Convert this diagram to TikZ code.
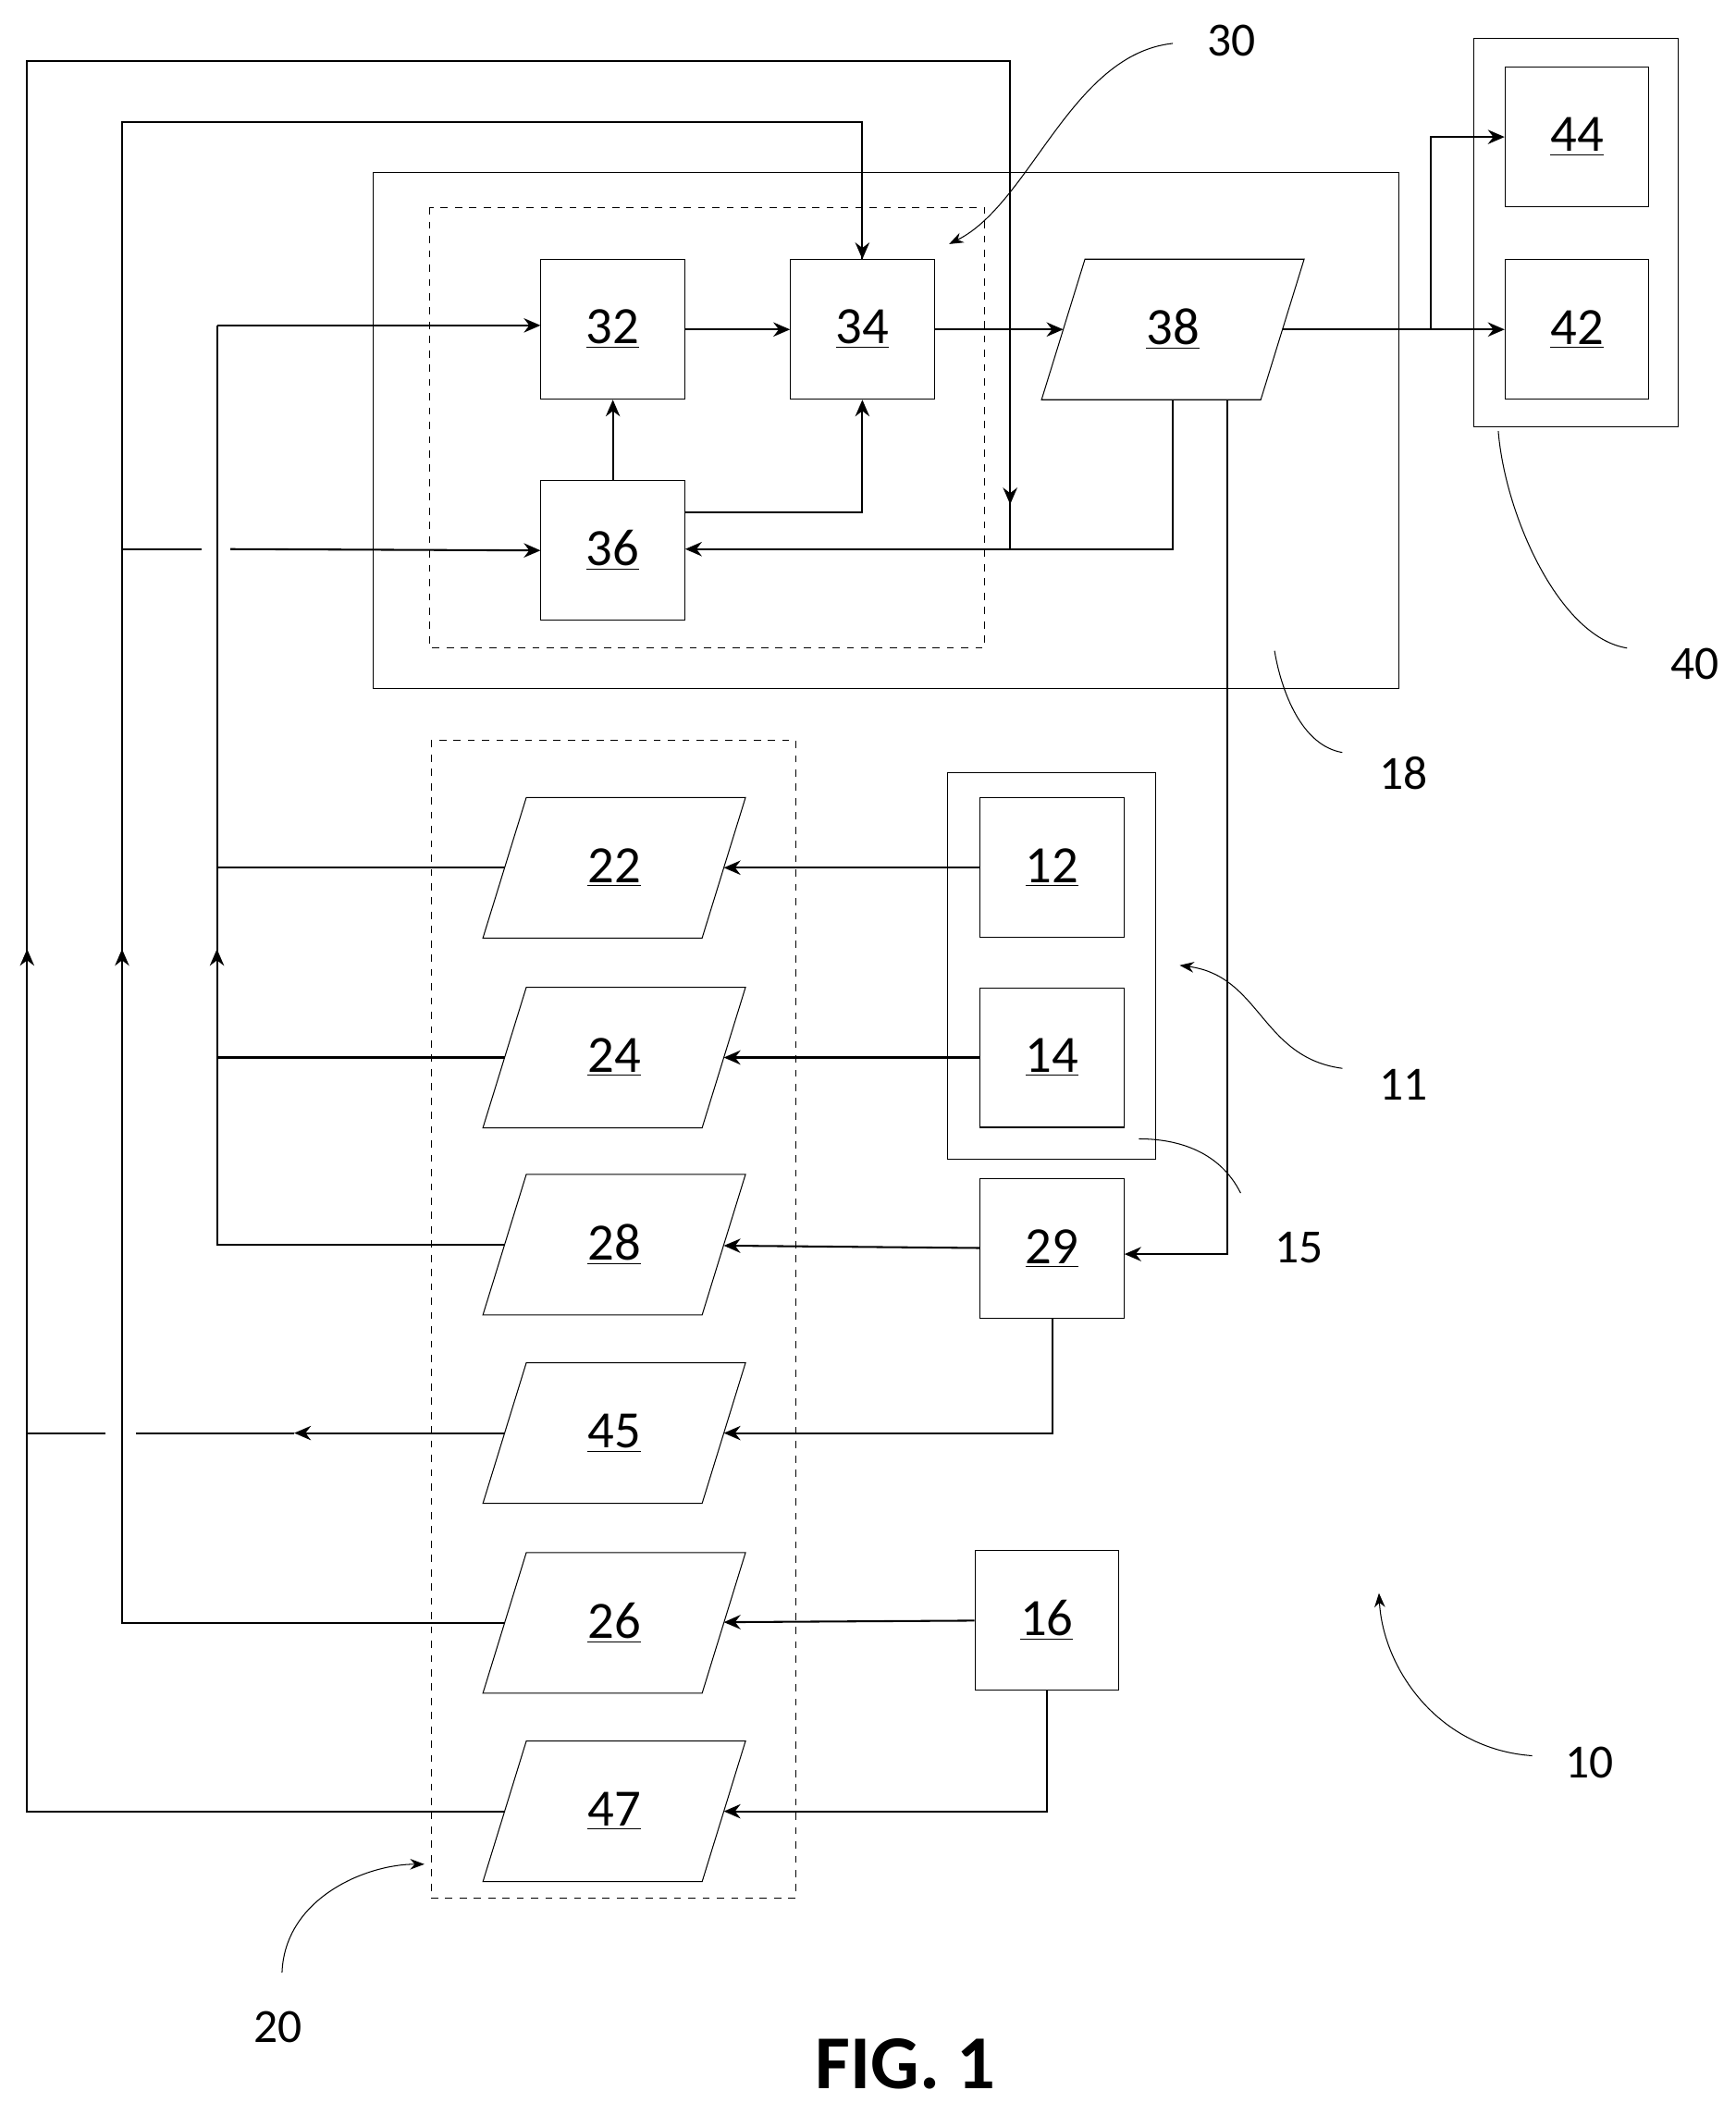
\documentclass[tikz,border=0pt]{standalone}
\usepackage{fontspec}
\setmainfont{Carlito}
\usetikzlibrary{arrows.meta}

\tikzset{
    blk/.style={draw, thin, minimum width=2.12cm, minimum height=2.06cm, inner sep=0pt, font=\fontsize{22}{24}\selectfont},
    para/.style={minimum width=3.22cm, minimum height=2.06cm, inner sep=0pt, font=\fontsize{22}{24}\selectfont,
        append after command={\pgfextra{\draw[thin] ([xshift=-0.32cm]\tikzlastnode.south west) -- ([xshift=0.32cm]\tikzlastnode.north west)
            -- ([xshift=0.32cm]\tikzlastnode.north east) -- ([xshift=-0.32cm]\tikzlastnode.south east) -- cycle;}}},
    wire/.style={thick, -{Stealth[length=7pt, width=6pt]}},
    plain/.style={thick},
    ref/.style={font=\fontsize{20}{22}\selectfont},
    lead/.style={thin},
}

\begin{document}
\begin{tikzpicture}[x=0.02cm, y=-0.02cm]
    \useasboundingbox (0, 0) rectangle (1280, 1560);

    % frames
    \draw[thin] (275, 127) rectangle (1032, 508);
    \draw[thin, dashed] (317, 153) rectangle (726, 478);
    \draw[thin] (1087, 28) rectangle (1238, 315);
    \draw[thin, dashed] (318, 546) rectangle (587, 1400);
    \draw[thin] (699, 570) rectangle (852, 855);

    % blocks
    \node[blk] (b32) at (452, 243) {\underline{32}};
    \node[blk] (b34) at (636, 243) {\underline{34}};
    \node[blk] (b36) at (452, 406) {\underline{36}};
    \node[para] (b38) at (865, 243) {\underline{38}};
    \node[blk] (b44) at (1163, 101) {\underline{44}};
    \node[blk] (b42) at (1163, 243) {\underline{42}};
    \node[blk] (b12) at (776, 640) {\underline{12}};
    \node[blk] (b14) at (776, 780) {\underline{14}};
    \node[blk] (b29) at (776, 921) {\underline{29}};
    \node[blk] (b16) at (772, 1195) {\underline{16}};
    \node[para] (b22) at (453, 640) {\underline{22}};
    \node[para] (b24) at (453, 780) {\underline{24}};
    \node[para] (b28) at (453, 918) {\underline{28}};
    \node[para] (b45) at (453, 1057) {\underline{45}};
    \node[para] (b26) at (453, 1197) {\underline{26}};
    \node[para] (b47) at (453, 1336) {\underline{47}};

    % bus points
    \coordinate (busA) at (20, 45);
    \coordinate (busB) at (90, 90);
    \coordinate (busC) at (160, 240);
    \coordinate (fork) at (1055, 243);
    \coordinate (tap1) at (865, 295);
    \coordinate (tap2) at (905, 295);
    \coordinate (join) at (745, 405);

    % inner connections
    \draw[wire] (b32) -- (b34);
    \draw[wire] (b34) -- (b38);
    \draw[wire] (b36) -- (b32);
    \draw[wire] (b36.east |- 0, 378) -| (b34.south);
    \draw[wire] (tap1) |- (b36.east |- join);
    \draw[plain] (b38.east |- fork) -- (fork);
    \draw[wire] (fork) -- (b42);
    \draw[wire] (fork) |- (b44);
    \draw[wire] (tap2) |- (b29.east |- 0, 925);

    % feedback buses
    \draw[plain] (b47.west) -| (busA) -| (join);
    \draw[wire] (busA |- 0, 760) -- (busA |- 0, 700);
    \draw[wire] (745, 300) -- (745, 372);
    \draw[plain] (b26.west) -| (busB) -| (b34.north);
    \draw[wire] (busB |- 0, 1100) -- (busB |- 0, 700);
    \draw[wire] (b34.north |- 0, 150) -- (b34.north);
    \draw[plain] (b28.west) -| (busC);
    \draw[wire] (busC) -- (b32.west |- busC);
    \draw[plain] (b22.west) -- (busC |- b22.west);
    \draw[plain] (b24.west) -- (busC |- b24.west);
    \draw[wire] (busC |- 0, 760) -- (busC |- 0, 700);
    \draw[plain] (busB |- join) -- (149, 405);
    \draw[wire] (170, 405) -- (b36.west);

    % input side
    \draw[wire] (b12) -- (b22);
    \draw[wire] (b14) -- (b24);
    \draw[wire] (b29) -- (b28);
    \draw[wire] (b29.south) |- (b45.east);
    \draw[wire] (b16) -- (b26);
    \draw[wire] (b16.south) |- (b47.east);
    \draw[wire] (b45.west) -- (217, 1057);
    \draw[plain] (217, 1057) -- (100, 1057);
    \draw[plain] (78, 1057) -- (busA |- b45.west);

    % reference numerals
    \node[ref] (r30) at (908, 30) {30};
    \draw[lead, -{Stealth[length=6pt]}] (865, 32) .. controls (790, 40) and (760, 150) .. (700, 180);
    \node[ref] (r40) at (1250, 490) {40};
    \draw[lead] (1200, 478) .. controls (1150, 470) and (1110, 380) .. (1105, 318);
    \node[ref] (r18) at (1035, 570) {18};
    \draw[lead] (990, 555) .. controls (960, 550) and (945, 510) .. (940, 480);
    \node[ref] (r11) at (1035, 800) {11};
    \draw[lead, -{Stealth[length=6pt]}] (990, 788) .. controls (930, 780) and (930, 720) .. (870, 712);
    \node[ref] (r15) at (958, 920) {15};
    \draw[lead] (915, 880) .. controls (900, 850) and (870, 840) .. (840, 840);
    \node[ref] (r10) at (1172, 1300) {10};
    \draw[lead, -{Stealth[length=6pt]}] (1130, 1295) .. controls (1060, 1290) and (1020, 1230) .. (1017, 1175);
    \node[ref] (r20) at (205, 1495) {20};
    \draw[lead, -{Stealth[length=6pt]}] (208, 1455) .. controls (210, 1400) and (270, 1375) .. (313, 1375);

    \node[font=\fontsize{32}{34}\selectfont\bfseries] (fig) at (668, 1522) {FIG. 1};
\end{tikzpicture}
\end{document}
